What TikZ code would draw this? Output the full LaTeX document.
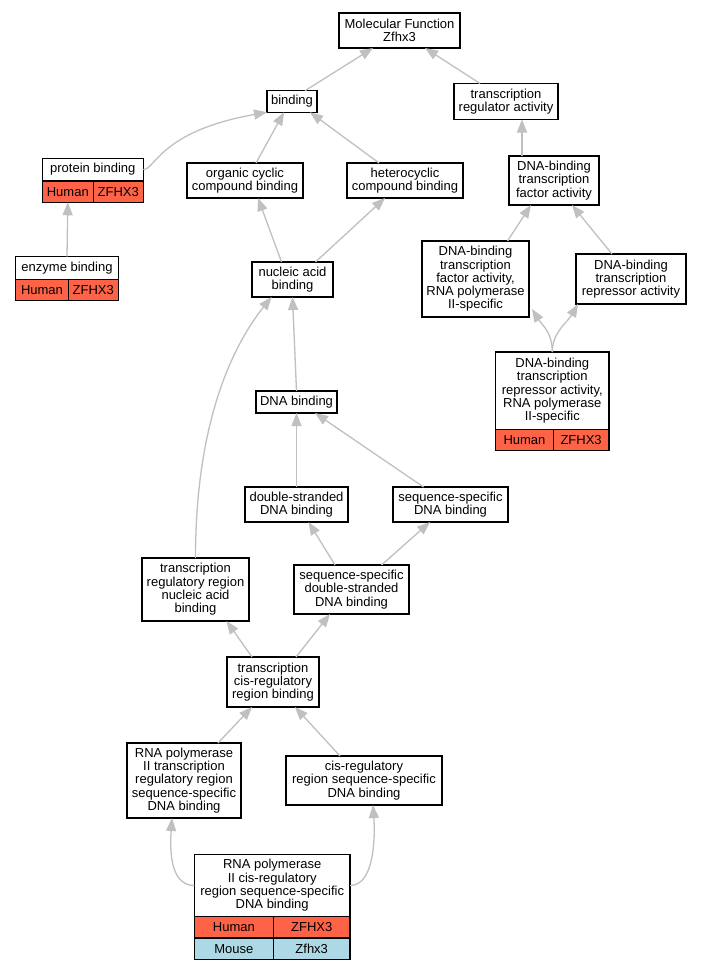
\documentclass[tikz,border=0pt]{standalone}
\usepackage{fontspec}
\setmainfont{Liberation Sans}
\usetikzlibrary{arrows.meta}
\definecolor{humanred}{HTML}{FF6347}
\definecolor{mouseblue}{HTML}{ADD8E6}
\definecolor{edgegray}{HTML}{C0C0C0}

\begin{document}
\begin{tikzpicture}
  [x=1pt,y=-1pt,>={Triangle[length=13pt,width=10pt]},
	term node/.style={rectangle,draw,fill=white,line width=1.3pt,
  outer sep=0pt,inner sep=2pt,align=center,font=\fontsize{13}{13.3}\selectfont},
	gene cell/.style={rectangle,draw,line width=1.3pt,outer sep=0pt,inner sep=0pt,
  anchor=north west,minimum height=21.3pt,font=\fontsize{13}{13.3}\selectfont},
	link/.style={->,draw=edgegray,line width=1.3pt}]

  \path[use as bounding box,fill=white] (0,0) rectangle (703,971);

  \node[term node,minimum width=121pt,minimum height=35pt] (mf) at (399.5,30.5) {Molecular Function\\Zfhx3};
  \node[term node,minimum width=50pt,minimum height=21.5pt] (bind) at (292,101.5) {binding};
  \node[term node,minimum width=104pt,minimum height=36pt] (tra) at (506,101.5) {transcription\\regulator activity};
  \node[term node,minimum width=101pt,minimum height=22.7pt] (prot) at (92.8,169.6) {protein binding};
  \node[term node,minimum width=116pt,minimum height=35pt] (org) at (245,180.5) {organic cyclic\\compound binding};
  \node[term node,minimum width=116pt,minimum height=35pt] (het) at (405,180.5) {heterocyclic\\compound binding};
  \node[term node,minimum width=90pt,minimum height=49pt] (dtf) at (554,180.5) {DNA-binding\\transcription\\factor activity};
  \node[term node,minimum width=102.6pt,minimum height=22.6pt] (enz) at (67,268) {enzyme binding};
  \node[term node,minimum width=81pt,minimum height=35pt] (nab) at (292.5,279.5) {nucleic acid\\binding};
  \node[term node,minimum width=107pt,minimum height=76pt] (dtf2) at (475.5,279) {DNA-binding\\transcription\\factor activity,\\RNA polymerase\\II-specific};
  \node[term node,minimum width=110pt,minimum height=50pt] (rep) at (631,279) {DNA-binding\\transcription\\repressor activity};
  \node[term node,minimum width=113.3pt,minimum height=77.3pt] (rep2) at (552.3,390.7) {DNA-binding\\transcription\\repressor activity,\\RNA polymerase\\II-specific};
  \node[term node,minimum width=81pt,minimum height=22pt] (dnab) at (296.5,402) {DNA binding};
  \node[term node,minimum width=103pt,minimum height=35pt] (ds) at (296.5,504.5) {double-stranded\\DNA binding};
  \node[term node,minimum width=115pt,minimum height=35pt] (ss) at (450.5,504.5) {sequence-specific\\DNA binding};
  \node[term node,minimum width=107pt,minimum height=63pt] (trr) at (195.5,589.5) {transcription\\regulatory region\\nucleic acid\\binding};
  \node[term node,minimum width=115pt,minimum height=49pt] (ssds) at (351.5,589.5) {sequence-specific\\double-stranded\\DNA binding};
  \node[term node,minimum width=92pt,minimum height=50pt] (tcis) at (273,682) {transcription\\cis-regulatory\\region binding};
  \node[term node,minimum width=114pt,minimum height=75pt] (rtrr) at (184,780.5) {RNA polymerase\\II transcription\\regulatory region\\sequence-specific\\DNA binding};
  \node[term node,minimum width=156pt,minimum height=49pt] (cis) at (364,780.5) {cis-regulatory\\region sequence-specific\\DNA binding};
  \node[term node,minimum width=155.7pt,minimum height=62.4pt] (bot) at (272.2,885.5) {RNA polymerase\\II cis-regulatory\\region sequence-specific\\DNA binding};

  % gene rows
  \node[gene cell,fill=humanred,minimum width=51pt] (prot-sp) at (prot.south west) {Human};
  \node[gene cell,fill=humanred,minimum width=50pt] (prot-gn) at (prot-sp.north east) {ZFHX3};
  \node[gene cell,fill=humanred,minimum width=52.6pt] (enz-sp) at (enz.south west) {Human};
  \node[gene cell,fill=humanred,minimum width=50pt] (enz-gn) at (enz-sp.north east) {ZFHX3};
  \node[gene cell,fill=humanred,minimum width=57.6pt] (rep2-sp) at (rep2.south west) {Human};
  \node[gene cell,fill=humanred,minimum width=55.7pt] (rep2-gn) at (rep2-sp.north east) {ZFHX3};
  \node[gene cell,fill=humanred,minimum width=79pt] (bot-sp) at (bot.south west) {Human};
  \node[gene cell,fill=humanred,minimum width=76.7pt] (bot-gn) at (bot-sp.north east) {ZFHX3};
  \node[gene cell,fill=mouseblue,minimum width=79pt] (bot-msp) at (bot-sp.south west) {Mouse};
  \node[gene cell,fill=mouseblue,minimum width=76.7pt] (bot-mgn) at (bot-msp.north east) {Zfhx3};

  \path[every edge/.style={link}]
    ([xshift=13pt]bind.north) edge ([xshift=-26.5pt]mf.south)
    ([xshift=-26pt]tra.north) edge ([xshift=25.5pt]mf.south)
    ([xshift=11pt]org.north) edge ([xshift=-8pt]bind.south)
    ([xshift=-26pt]het.north) edge ([xshift=18pt]bind.south)
    (enz.north) edge (prot-sp.south)
    ([xshift=-11pt]nab.north) edge ([xshift=13pt]org.south)
    ([xshift=23pt]nab.north) edge ([xshift=-20pt]het.south)
    ([xshift=-32pt]dtf.north) edge ([xshift=16pt]tra.south)
    ([xshift=32pt]dtf2.north) edge ([xshift=-23pt]dtf.south)
    ([xshift=-19pt]rep.north) edge ([xshift=18pt]dtf.south)
    (dnab.north) edge (nab.south)
    (ds.north) edge (dnab.south)
    ([xshift=-27pt]ss.north) edge ([xshift=18.5pt]dnab.south)
    ([xshift=-16.5pt]ssds.north) edge ([xshift=12pt]ds.south)
    ([xshift=30pt]ssds.north) edge ([xshift=-20.5pt]ss.south)
    ([xshift=-21pt]tcis.north) edge ([xshift=31pt]trr.south)
    ([xshift=23pt]tcis.north) edge ([xshift=-21.5pt]ssds.south)
    ([xshift=34pt]rtrr.north) edge ([xshift=-21pt]tcis.south)
    ([xshift=-24pt]cis.north) edge ([xshift=22pt]tcis.south);

  % curved links
  \draw[link] (prot.east) .. controls +(12,0) and +(-107,19) .. (bind.south west);
  \draw[link] (trr.north) .. controls +(0,-128) and +(-43,54) .. ([xshift=-21pt]nab.south);
  \draw[link] (rep2.north) .. controls +(0,-20) and +(10,16) .. ([xshift=3pt,yshift=8pt]dtf2.south east);
  \draw[link] (rep2.north) .. controls +(0,-20) and +(-11,19) .. ([xshift=2pt]rep.south west);
  \draw[link] (bot.west) .. controls +(-25,0) and +(-2,30) .. ([xshift=-12pt]rtrr.south);
  \draw[link] (bot.east) .. controls +(25,0) and +(2,30) .. ([xshift=9pt]cis.south);
\end{tikzpicture}
\end{document}
